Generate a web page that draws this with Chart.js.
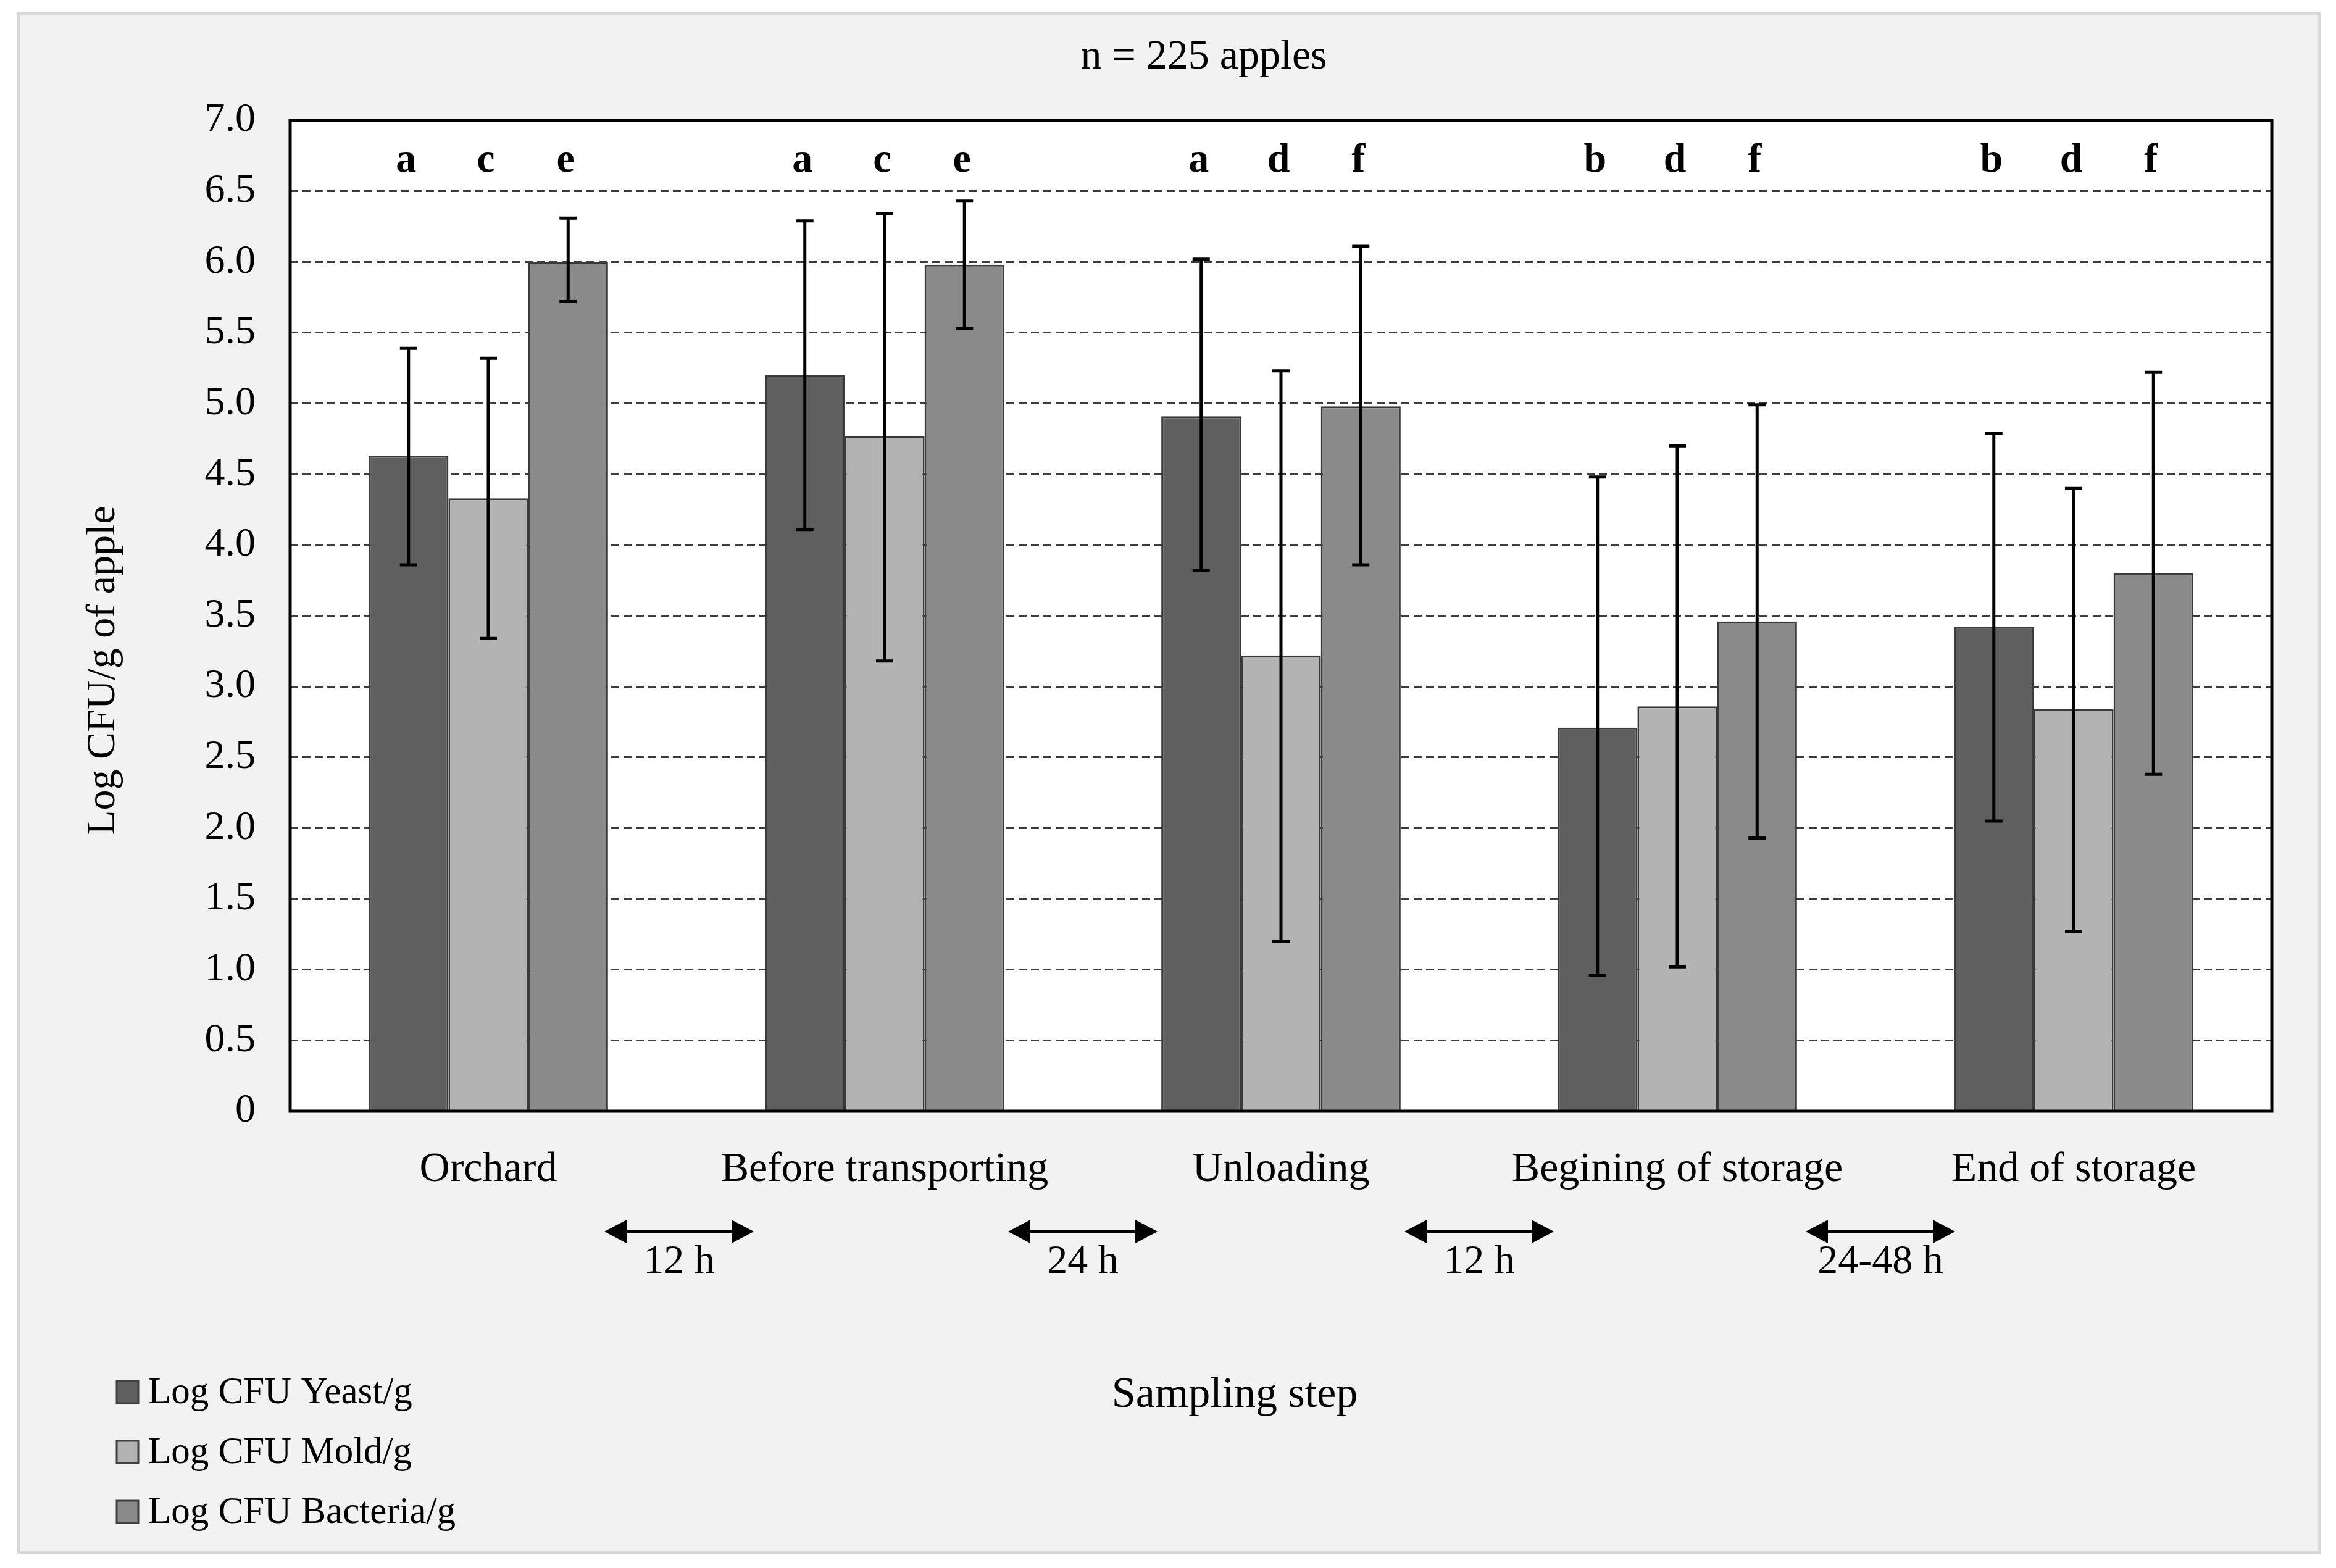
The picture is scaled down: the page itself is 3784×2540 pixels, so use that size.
<!DOCTYPE html>
<html>
<head>
<meta charset="utf-8">
<script src="https://cdn.jsdelivr.net/npm/chart.js@4.4.1/dist/chart.umd.min.js"></script>
<style>
  html, body { margin: 0; padding: 0; background: #ffffff; }
  #wrap { width: 3784px; height: 2540px; position: relative; }
</style>
</head>
<body>
<div id="wrap"><canvas id="chart"></canvas></div>
<script>
// data
const steps = ['Orchard', 'Before transporting', 'Unloading', 'Begining of storage', 'End of storage'];

const yeast   = [4.63, 5.20, 4.91, 2.71, 3.42];
const yeastHi = [5.39, 6.29, 6.02, 4.48, 4.79];
const yeastLo = [3.86, 4.11, 3.82, 0.96, 2.05];

const mold   = [4.33, 4.77, 3.22, 2.86, 2.84];
const moldHi = [5.32, 6.34, 5.23, 4.70, 4.40];
const moldLo = [3.34, 3.18, 1.20, 1.02, 1.27];

const bacteria = [6.00, 5.98, 4.98, 3.46, 3.80];
const bactHi   = [6.31, 6.43, 6.11, 4.99, 5.22];
const bactLo   = [5.72, 5.53, 3.86, 1.93, 2.38];

const yeastLetters = ['a', 'a', 'a', 'b', 'b'];
const moldLetters  = ['c', 'c', 'd', 'd', 'd'];
const bactLetters  = ['e', 'e', 'f', 'f', 'f'];

const intervals = ['12 h', '24 h', '12 h', '24-48 h'];

const yMin = 0, yMax = 7, yStep = 0.5;
const letterLevel = 6.64;

const serif = '"Liberation Serif", "DejaVu Serif", serif';

const decorations = {
  id: 'decorations',
  beforeDraw(chart) {
    const ctx = chart.ctx;
    ctx.save();
    ctx.fillStyle = '#ffffff';
    ctx.fillRect(0, 0, chart.width, chart.height);
    ctx.fillStyle = '#f2f2f2';
    ctx.fillRect(30, 22, 3727, 2493);
    ctx.strokeStyle = '#d9d9d9';
    ctx.lineWidth = 4;
    ctx.strokeRect(30, 22, 3727, 2493);
    const a = chart.chartArea;
    ctx.fillStyle = '#ffffff';
    ctx.fillRect(a.left, a.top, a.right - a.left, a.bottom - a.top);
    ctx.restore();
  },
  afterDatasetsDraw(chart) {
    const ctx = chart.ctx;
    const a = chart.chartArea;
    const y = chart.scales.y;
    const x = chart.scales.x;
    ctx.save();

    // error bars
    ctx.strokeStyle = '#000000';
    ctx.lineWidth = 5;
    chart.data.datasets.forEach((ds, i) => {
      const meta = chart.getDatasetMeta(i);
      meta.data.forEach((bar, j) => {
        const yh = y.getPixelForValue(ds.errHi[j]);
        const yl = y.getPixelForValue(ds.errLo[j]);
        ctx.beginPath();
        ctx.moveTo(bar.x, yh); ctx.lineTo(bar.x, yl);
        ctx.moveTo(bar.x - 14, yh); ctx.lineTo(bar.x + 14, yh);
        ctx.moveTo(bar.x - 14, yl); ctx.lineTo(bar.x + 14, yl);
        ctx.stroke();
      });
    });

    // significance letters
    ctx.fillStyle = '#000000';
    ctx.font = 'bold 66px ' + serif;
    ctx.textAlign = 'center';
    ctx.textBaseline = 'alphabetic';
    chart.data.datasets.forEach((ds, i) => {
      const meta = chart.getDatasetMeta(i);
      meta.data.forEach((bar, j) => {
        ctx.fillText(ds.letters[j], bar.x - 4, y.getPixelForValue(letterLevel));
      });
    });

    // plot frame
    ctx.strokeStyle = '#000000';
    ctx.lineWidth = 5;
    ctx.strokeRect(a.left, a.top, a.right - a.left, a.bottom - a.top);

    // title
    ctx.font = '68px ' + serif;
    ctx.textBaseline = 'middle';
    ctx.fillText('n = 225 apples', 1950, 93);

    // x axis title
    ctx.font = '70px ' + serif;
    ctx.fillText('Sampling step', 2000, 2261);

    // y axis title
    ctx.save();
    ctx.translate(168, 1086);
    ctx.rotate(-Math.PI / 2);
    ctx.font = '66px ' + serif;
    ctx.fillText('Log CFU/g of apple', 0, 0);
    ctx.restore();

    // time arrows between steps
    const ay = 1995;
    const shifts = [-12, 0, 0, 8];
    intervals.forEach((lab, i) => {
      const cx = (x.getPixelForValue(i) + x.getPixelForValue(i + 1)) / 2 + shifts[i];
      const half = 121, head = 36, hh = 19;
      ctx.lineWidth = 4;
      ctx.beginPath();
      ctx.moveTo(cx - half + head, ay); ctx.lineTo(cx + half - head, ay);
      ctx.stroke();
      ctx.beginPath();
      ctx.moveTo(cx - half, ay); ctx.lineTo(cx - half + head, ay - hh); ctx.lineTo(cx - half + head, ay + hh);
      ctx.closePath(); ctx.fill();
      ctx.beginPath();
      ctx.moveTo(cx + half, ay); ctx.lineTo(cx + half - head, ay - hh); ctx.lineTo(cx + half - head, ay + hh);
      ctx.closePath(); ctx.fill();
      ctx.font = '66px ' + serif;
      ctx.textBaseline = 'middle';
      ctx.fillText(lab, cx, 2045);
    });

    // legend
    ctx.textAlign = 'left';
    ctx.font = '61px ' + serif;
    const rows = [2255, 2352, 2449];
    chart.data.datasets.forEach((ds, i) => {
      const cy = rows[i];
      ctx.fillStyle = ds.backgroundColor;
      ctx.fillRect(189, cy - 18, 35, 36);
      ctx.strokeStyle = '#404040';
      ctx.lineWidth = 3;
      ctx.strokeRect(189, cy - 18, 35, 36);
      ctx.fillStyle = '#000000';
      ctx.fillText(ds.label, 240, cy + 2);
    });

    ctx.restore();
  }
};

new Chart(document.getElementById('chart'), {
  type: 'bar',
  data: {
    labels: steps,
    datasets: [
      { label: 'Log CFU Yeast/g', data: yeast, errHi: yeastHi, errLo: yeastLo, letters: yeastLetters,
        backgroundColor: '#5f5f5f', borderColor: '#3a3a3a', borderWidth: 3 },
      { label: 'Log CFU Mold/g', data: mold, errHi: moldHi, errLo: moldLo, letters: moldLetters,
        backgroundColor: '#b3b3b3', borderColor: '#3a3a3a', borderWidth: 3 },
      { label: 'Log CFU Bacteria/g', data: bacteria, errHi: bactHi, errLo: bactLo, letters: bactLetters,
        backgroundColor: '#8a8a8a', borderColor: '#3a3a3a', borderWidth: 3 }
    ]
  },
  options: {
    responsive: true,
    maintainAspectRatio: false,
    devicePixelRatio: 1,
    animation: false,
    categoryPercentage: 0.604,
    barPercentage: 1.0,
    layout: { padding: { left: 0, right: 104, top: 195, bottom: 0 } },
    plugins: {
      legend: { display: false },
      tooltip: { enabled: false },
      title: { display: false }
    },
    scales: {
      x: {
        grid: { display: false, drawTicks: false },
        border: { display: false },
        ticks: { color: '#000000', font: { family: serif, size: 68 }, padding: 54, maxRotation: 0, autoSkip: false },
        afterFit(s) { s.height = 740; }
      },
      y: {
        min: yMin,
        max: yMax,
        border: { display: false, dash: [13, 7] },
        grid: {
          drawTicks: false,
          lineWidth: 3,
          color: (c) => (c.tick && (c.tick.value === yMin || c.tick.value === yMax)) ? 'rgba(0,0,0,0)' : '#3c3c3c'
        },
        ticks: {
          stepSize: yStep,
          color: '#000000',
          padding: 56,
          font: { family: serif, size: 66 },
          callback: (v) => v === 0 ? '0' : v.toFixed(1)
        },
        afterFit(s) { s.width = 470; }
      }
    }
  },
  plugins: [decorations]
});
</script>
</body>
</html>
